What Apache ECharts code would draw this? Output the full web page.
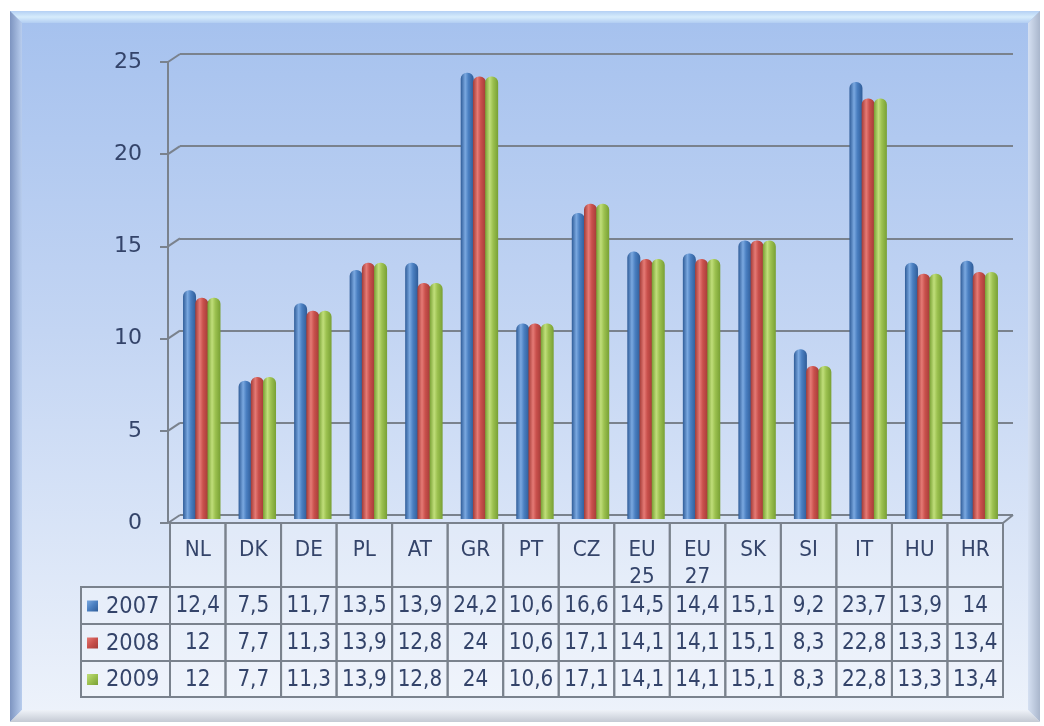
<!DOCTYPE html>
<html>
<head>
<meta charset="utf-8">
<script src="https://cdn.jsdelivr.net/npm/echarts@6/dist/echarts.min.js"></script>
<style>
  html, body { margin: 0; padding: 0; background: #fff; }
  #chart { width: 1044px; height: 726px; }
</style>
</head>
<body>
<div id="chart"></div>
<script>
// data
const categories = ['NL', 'DK', 'DE', 'PL', 'AT', 'GR', 'PT', 'CZ', 'EU\n25', 'EU\n27', 'SK', 'SI', 'IT', 'HU', 'HR']
const years = ['2007', '2008', '2009']
const v2007 = [12.4, 7.5, 11.7, 13.5, 13.9, 24.2, 10.6, 16.6, 14.5, 14.4, 15.1, 9.2, 23.7, 13.9, 14]
const v2008 = [12, 7.7, 11.3, 13.9, 12.8, 24, 10.6, 17.1, 14.1, 14.1, 15.1, 8.3, 22.8, 13.3, 13.4]
const v2009 = [12, 7.7, 11.3, 13.9, 12.8, 24, 10.6, 17.1, 14.1, 14.1, 15.1, 8.3, 22.8, 13.3, 13.4]
const yTicks = [0, 5, 10, 15, 20, 25]

const values = [v2007, v2008, v2009]
// base, light, dark for each series (cylinder look)
const palette = [
  ['#4a7fc1', '#7aa8e0', '#2f5c98'],
  ['#c9504c', '#e57a75', '#a33b37'],
  ['#9cc150', '#c0de7a', '#78a034']
]
const textColor = '#34446a'
const lineColor = '#7a828d'
const font = 'DejaVu Sans'

const chart = echarts.init(document.getElementById('chart'))

function cyl(c) {
  return new echarts.graphic.LinearGradient(0, 0, 1, 0, [
    { offset: 0, color: c[2] },
    { offset: 0.35, color: c[1] },
    { offset: 0.6, color: c[0] },
    { offset: 1, color: c[2] }
  ])
}

// frame / background
const L = 10, T = 11, R = 1040, B = 722, bv = 12
const frame = [
  {
    type: 'rect', z: -20,
    shape: { x: L, y: T, width: R - L, height: B - T },
    style: {
      fill: new echarts.graphic.LinearGradient(0, 0, 0, 1, [
        { offset: 0, color: '#a5c1ee' },
        { offset: 0.45, color: '#c3d5f3' },
        { offset: 1, color: '#eef3fb' }
      ])
    }
  },
  {
    type: 'polygon', z: -19,
    shape: { points: [[L, T], [R, T], [R - bv, T + bv], [L + bv, T + bv]] },
    style: {
      fill: new echarts.graphic.LinearGradient(0, 0, 0, 1, [
        { offset: 0, color: '#b4d0f4' },
        { offset: 0.5, color: '#d6ecfc' },
        { offset: 1, color: '#b2cdf2' }
      ])
    }
  },
  {
    type: 'polygon', z: -19,
    shape: { points: [[L, T], [L + bv, T + bv], [L + bv, B - bv], [L, B]] },
    style: {
      fill: new echarts.graphic.LinearGradient(0, 0, 1, 0, [
        { offset: 0, color: '#7d94c0' },
        { offset: 1, color: '#b8cdee' }
      ])
    }
  },
  {
    type: 'polygon', z: -19,
    shape: { points: [[R, T], [R, B], [R - bv, B - bv], [R - bv, T + bv]] },
    style: {
      fill: new echarts.graphic.LinearGradient(0, 0, 1, 0, [
        { offset: 0, color: '#d5e0f2' },
        { offset: 1, color: '#a9b6cc' }
      ])
    }
  },
  {
    type: 'polygon', z: -19,
    shape: { points: [[L, B], [L + bv, B - bv], [R - bv, B - bv], [R, B]] },
    style: {
      fill: new echarts.graphic.LinearGradient(0, 0, 0, 1, [
        { offset: 0, color: '#eef2f8' },
        { offset: 1, color: '#c4cad4' }
      ])
    }
  }
]

chart.setOption({
  animation: false,
  grid: [
    { left: 174, right: 37, top: 58, bottom: 207 },   // bars (mid depth)
    { left: 180, right: 31, top: 54, bottom: 211 },   // back wall
    { left: 168, right: 41, top: 62, bottom: 203 }    // front axis
  ],
  xAxis: [
    { gridIndex: 0, type: 'category', data: categories, show: false },
    { gridIndex: 1, type: 'category', data: categories, show: false },
    { gridIndex: 2, type: 'category', data: categories, show: false }
  ],
  yAxis: [
    { gridIndex: 0, type: 'value', min: 0, max: 25, interval: 5, show: false },
    {
      gridIndex: 1, type: 'value', min: 0, max: 25, interval: 5,
      axisLine: { show: false }, axisTick: { show: false }, axisLabel: { show: false },
      splitLine: { show: true, lineStyle: { color: lineColor, width: 2 } }
    },
    {
      gridIndex: 2, type: 'value', min: 0, max: 25, interval: 5,
      axisLine: { show: true, lineStyle: { color: lineColor, width: 2 } },
      axisTick: { show: true, length: 8, lineStyle: { color: lineColor, width: 2 } },
      axisLabel: { margin: 26, fontSize: 22, color: textColor, fontFamily: font },
      splitLine: { show: false }
    }
  ],
  series: values.map((vals, i) => ({
    name: years[i],
    type: 'bar',
    xAxisIndex: 0,
    yAxisIndex: 0,
    data: vals,
    barWidth: 13,
    barGap: '-6%',
    itemStyle: { color: cyl(palette[i]), borderRadius: [6, 6, 0, 0] },
    z: 3
  })),
  graphic: frame
})

// 3D connectors between front axis ticks and back wall lines
const extras = []
yTicks.forEach(t => {
  const py = chart.convertToPixel({ yAxisIndex: 2 }, t)
  extras.push({
    type: 'line', z: 1,
    shape: { x1: 168, y1: py, x2: 180, y2: py - 8 },
    style: { stroke: lineColor, lineWidth: 2 }
  })
})

// data table
const tL = 170, tR = 1003, colW = (tR - tL) / categories.length
const legL = 81
const headTop = 523, headBot = 587
const rowH = [587, 624, 661, 697]
const cellFill = 'rgba(255,255,255,0.22)'

const py0 = chart.convertToPixel({ yAxisIndex: 2 }, 0)
extras.push({
  type: 'line', z: 1,
  shape: { x1: tR, y1: py0, x2: tR + 10, y2: py0 - 8 },
  style: { stroke: lineColor, lineWidth: 2 }
})

categories.forEach((c, j) => {
  const x = tL + j * colW
  extras.push({
    type: 'rect', z: 4,
    shape: { x: x, y: headTop, width: colW, height: headBot - headTop },
    style: { fill: cellFill, stroke: lineColor, lineWidth: 2 }
  })
  extras.push({
    type: 'text', z: 5, x: x + colW / 2, y: headTop + 14, scaleY: 1.08,
    style: {
      text: c, fill: textColor, font: '20px "' + font + '"',
      align: 'center', verticalAlign: 'top', lineHeight: 25
    }
  })
})

years.forEach((yr, i) => {
  const y1 = rowH[i], y2 = rowH[i + 1]
  extras.push({
    type: 'rect', z: 4,
    shape: { x: legL, y: y1, width: tL - legL, height: y2 - y1 },
    style: { fill: cellFill, stroke: lineColor, lineWidth: 2 }
  })
  // legend key, small bevelled square
  extras.push({
    type: 'rect', z: 5,
    shape: { x: 87, y: (y1 + y2) / 2 - 5, width: 11, height: 11 },
    style: {
      fill: new echarts.graphic.LinearGradient(0, 0, 1, 1, [
        { offset: 0, color: palette[i][1] },
        { offset: 0.5, color: palette[i][0] },
        { offset: 1, color: palette[i][2] }
      ])
    }
  })
  extras.push({
    type: 'text', z: 5, x: 106, y: (y1 + y2) / 2 + 1, scaleY: 1.12,
    style: { text: yr, fill: textColor, font: '21px "' + font + '"', align: 'left', verticalAlign: 'middle' }
  })
  values[i].forEach((v, j) => {
    const x = tL + j * colW
    extras.push({
      type: 'rect', z: 4,
      shape: { x: x, y: y1, width: colW, height: y2 - y1 },
      style: { fill: cellFill, stroke: lineColor, lineWidth: 2 }
    })
    extras.push({
      type: 'text', z: 5, x: x + colW / 2, y: (y1 + y2) / 2 + 1, scaleY: 1.12,
      style: {
        text: String(v).replace('.', ','), fill: textColor,
        font: '20px "' + font + '"', align: 'center', verticalAlign: 'middle'
      }
    })
  })
})

chart.setOption({ graphic: frame.concat(extras) })
</script>
</body>
</html>
